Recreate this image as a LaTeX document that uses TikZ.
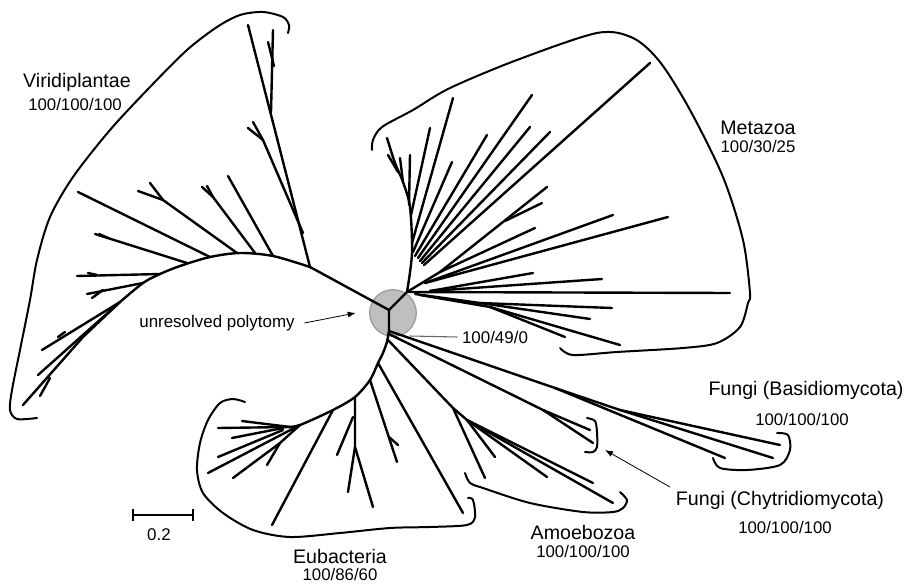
\documentclass[tikz,border=0pt]{standalone}
\usepackage{fontspec}
\setmainfont{Liberation Sans}
\usepackage{tikz}
\usetikzlibrary{arrows.meta}

\begin{document}
\begin{tikzpicture}[x=0.75pt,y=-0.75pt,
		branch/.style={line width=1.8pt, line cap=round, line join=round},
		clade/.style={line width=1.5pt, line cap=round},
		taxon/.style={font=\fontsize{14.7}{17}\selectfont},
		support/.style={font=\fontsize{12.6}{15}\selectfont},
		note/.style={font=\fontsize{12.7}{15}\selectfont}]
		\useasboundingbox (0,0) rectangle (907,585);
		% polytomy
		\node[circle, fill=gray!50, draw=gray!80, line width=0.9pt, minimum size=35pt, inner sep=0pt] (poly) at (393,313) {};
		\draw[branch] (310,267) -- (389,310) -- (407,292);
		\draw[branch] (389,310) -- (389,331) -- (387,342);
		% Viridiplantae
		\begin{scope}
			\draw[branch] plot[smooth] coordinates {(310,267) (273,256) (240,253) (210,257) (180,266) (160,274) (143,283) (120,302)};
			\draw[branch] (310,267) -- (248,25);
			\draw[branch] (271,112) -- (273,30);
			\draw[branch] (274,66) -- (268,42);
			\draw[branch] (303,233) -- (263,140) -- (248,128);
			\draw[branch] (263,140) -- (253,122);
			\draw[branch] (273,256) -- (228,176);
			\draw[branch] (255,253) -- (213,197) -- (202,187);
			\draw[branch] (213,197) -- (207,186);
			\draw[branch] (237,253) -- (163,200) -- (138,191);
			\draw[branch] (163,200) -- (150,183);
			\draw[branch] (210,257) -- (78,192);
			\draw[branch] (187,263) -- (95,234);
			\draw[branch] (108,238) -- (99,234);
			\draw[branch] (160,274) -- (77,276);
			\draw[branch] (97,275) -- (88,273);
			\draw[branch] (143,283) -- (87,294);
			\draw[branch] (103,290) -- (92,298);
			\draw[branch] (120,302) -- (42,350);
			\draw[branch] (65,332) -- (58,337);
			\draw[branch] (120,302) -- (38,375);
			\draw[branch] (120,302) -- (83,337) -- (23,405);
			\draw[branch] (50,378) -- (40,396);
			\draw[clade] plot[smooth] coordinates {(288,33) (289,25) (283,17) (263,12) (240,15) (217,27) (187,50) (150,87) (110,130) (73,177) (50,217) (37,260) (30,300) (20,350) (12,390) (10,410) (17,419) (37,418)};
		\end{scope}
		% Metazoa
		\begin{scope}
			\draw[branch] plot[smooth] coordinates {(407,292) (412,253) (410,207) (403,182) (395,163) (387,138)};
			\draw[branch] (398,172) -- (388,155);
			\draw[branch] (403,182) -- (400,158);
			\draw[branch] (409,205) -- (410,155);
			\draw[branch] (411,215) -- (430,128);
			\draw[branch] (412,243) -- (453,98);
			\draw[branch] (413,252) -- (452,162);
			\draw[branch] (415,256) -- (487,135);
			\draw[branch] (418,258) -- (532,95);
			\draw[branch] (420,261) -- (530,127);
			\draw[branch] (422,263) -- (550,132);
			\draw[branch] (424,265) -- (650,63);
			\draw[branch] (407,292) -- (440,272) -- (547,187);
			\draw[branch] (505,221) -- (542,203);
			\draw[branch] (440,272) -- (535,228);
			\draw[branch] (425,283) -- (613,215);
			\draw[branch] (425,283) -- (668,217);
			\draw[branch] (430,291) -- (533,273);
			\draw[branch] (430,291) -- (602,279);
			\draw[branch] (407,292) -- (730,293);
			\draw[branch] (415,294) -- (480,303) -- (612,308);
			\draw[branch] (480,303) -- (590,319);
			\draw[branch] (420,295) -- (490,307) -- (565,337);
			\draw[branch] (490,307) -- (620,345);
			\draw[clade] plot[smooth] coordinates {(372,150) (373,140) (382,127) (413,110) (450,88) (517,60) (597,33) (633,38) (660,62) (690,110) (723,177) (743,240) (750,293) (748,303) (740,327) (717,343) (683,348) (617,352) (573,355) (560,348)};
		\end{scope}
		% Fungi
		\draw[branch] (389,331) -- (555,388) -- (725,458);
		\draw[branch] (555,388) -- (620,410) -- (780,445);
		\draw[branch] (620,410) -- (773,458);
		\draw[clade] plot[smooth] coordinates {(713,458) (720,468) (747,470) (780,465) (790,450) (788,435) (777,433)};
		\draw[branch] (389,334) -- (543,410) -- (590,430);
		\draw[branch] (543,410) -- (593,443);
		\draw[clade] plot[smooth] coordinates {(587,418) (595,421) (597,432) (597,447) (593,452) (585,452)};
		% Amoebozoa
		\draw[branch] (388,340) -- (453,408) -- (485,478);
		\draw[branch] (453,408) -- (467,420) -- (613,503);
		\draw[branch] (467,420) -- (593,483);
		\draw[branch] (467,420) -- (547,477);
		\draw[branch] (467,420) -- (495,457);
		\draw[clade] plot[smooth] coordinates {(465,473) (470,483) (483,488) (530,503) (583,512) (613,512) (623,508) (627,500) (620,492)};
		% Eubacteria
		\begin{scope}
			\draw[branch] plot[smooth] coordinates {(387,342) (383,353) (378,363) (370,380) (355,397) (333,410) (300,425) (287,427)};
			\draw[branch] (378,363) -- (463,513);
			\draw[branch] (370,380) -- (397,462);
			\draw[branch] (389,437) -- (398,445);
			\draw[branch] (355,397) -- (355,447) -- (348,492);
			\draw[branch] (355,447) -- (373,507);
			\draw[branch] (353,417) -- (337,455);
			\draw[branch] (333,410) -- (272,525);
			\draw[branch] (300,425) -- (208,473);
			\draw[branch] (290,427) -- (218,428);
			\draw[branch] (290,427) -- (242,421);
			\draw[branch] (283,428) -- (232,438);
			\draw[branch] (283,430) -- (218,457);
			\draw[branch] (300,425) -- (280,443) -- (233,478);
			\draw[branch] (280,443) -- (267,465);
			\draw[clade] plot[smooth] coordinates {(245,402) (233,399) (220,403) (208,420) (200,443) (197,470) (203,493) (223,513) (253,530) (290,537) (340,533) (390,528) (430,527) (467,525) (475,517) (473,500) (468,498)};
		\end{scope}
		% labels
		\node[taxon] (viri) at (77,82) {Viridiplantae};
		\node[support] (viriS) at (75,104) {100/100/100};
		\node[taxon] (meta) at (758,128) {Metazoa};
		\node[support] (metaS) at (758,146) {100/30/25};
		\node[taxon] (basi) at (806,390) {Fungi (Basidiomycota)};
		\node[support] (basiS) at (802,419) {100/100/100};
		\node[taxon] (chyt) at (780,500) {Fungi (Chytridiomycota)};
		\node[support] (chytS) at (785,527) {100/100/100};
		\node[taxon] (amoe) at (583,532) {Amoebozoa};
		\node[support] (amoeS) at (583,551) {100/100/100};
		\node[taxon] (eubac) at (340,556) {Eubacteria};
		\node[support] (eubacS) at (340,574) {100/86/60};
		\node[note] (unres) at (217,323) {unresolved polytomy};
		\node[note] (p49) at (495,337) {100/49/0};
		\coordinate (chytTip) at (605,450);
		\draw[-{Latex[length=6pt]}, line width=0.6pt] (unres.east) ++(5,0) -- ([xshift=-10pt]poly.west);
		\draw[-{Latex[length=6pt]}, line width=0.6pt] (670,487) -- (chytTip);
		\draw[gray!80!black, line width=0.8pt] (410,336) -- (p49.west);
		% scale bar
		\draw[line width=1.3pt] (133,509) -- (133,521) (133,515) -- (193,515) (193,509) -- (193,521);
		\node[note] (scl) at (159,535) {0.2};
\end{tikzpicture}
\end{document}
